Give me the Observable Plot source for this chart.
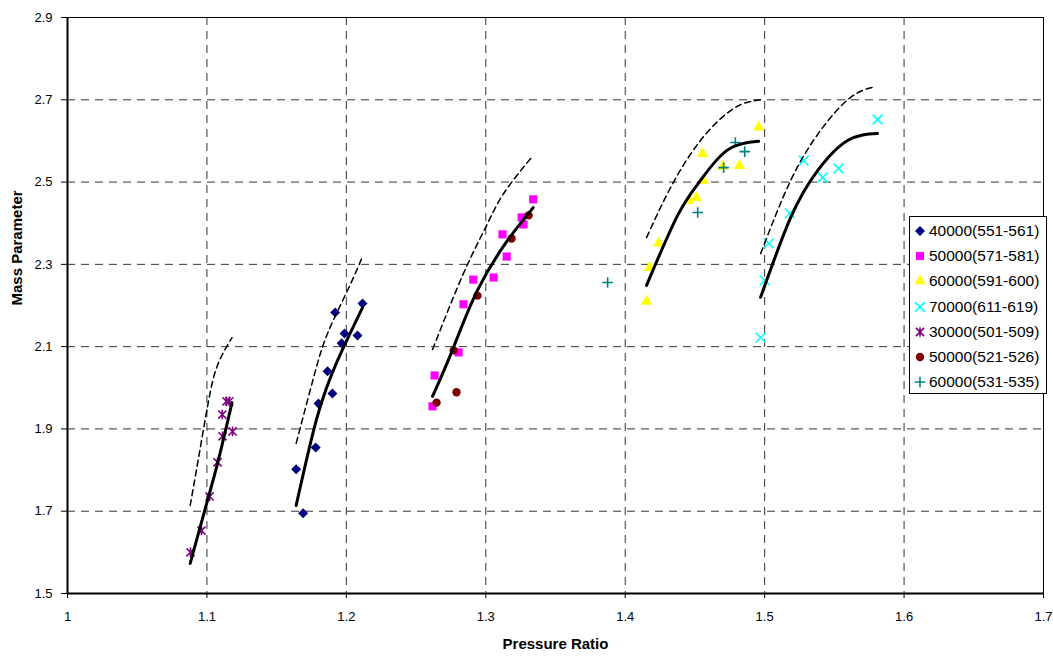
<!DOCTYPE html>
<html>
<head>
<meta charset="utf-8">
<script src="https://cdn.jsdelivr.net/npm/d3@7"></script>
<script src="https://cdn.jsdelivr.net/npm/@observablehq/plot@0.6"></script>
<style>
  html, body { margin: 0; padding: 0; background: #fff; }
  body { font-family: "Liberation Sans", Arial, sans-serif; }
  #wrap { position: relative; width: 1053px; height: 659px; overflow: hidden; }
  #legend {
    position: absolute; left: 909px; top: 216px; width: 138px; height: 178px;
    box-sizing: border-box; border: 1px solid #000; background: #fff;
    padding-top: 1px;
  }
  .row { height: 25.3px; display: flex; align-items: center; font-size: 15.5px; color: #000; white-space: nowrap; }
  .row svg { width: 18px; height: 18px; margin-left: 1px; margin-right: 0px; flex: none; }
</style>
</head>
<body>
<div id="wrap"></div>
<script>
// ---- Axis ticks ----
const xTicks = [1, 1.1, 1.2, 1.3, 1.4, 1.5, 1.6, 1.7];
const yTicks = [1.5, 1.7, 1.9, 2.1, 2.3, 2.5, 2.7, 2.9];

// ---- Series names (legend order) ----
const seriesNames = [
  "40000(551-561)", "50000(571-581)", "60000(591-600)", "70000(611-619)",
  "30000(501-509)", "50000(521-526)", "60000(531-535)"
];

// ---- Measured points [Pressure Ratio, Mass Parameter] ----
const s40000_551_561 = [[1.164,1.802],[1.169,1.695],[1.178,1.855],[1.180,1.962],[1.1865,2.040],[1.190,1.986],[1.192,2.183],[1.1966,2.108],[1.1987,2.132],[1.208,2.127],[1.2116,2.205]];
const s50000_571_581 = [[1.2618,1.955],[1.2633,2.030],[1.2805,2.086],[1.284,2.203],[1.291,2.263],[1.3056,2.268],[1.315,2.319],[1.312,2.373],[1.327,2.397],[1.3257,2.414],[1.334,2.458]];
const s60000_591_600 = [[1.4153,2.210],[1.4175,2.292],[1.424,2.351],[1.4455,2.455],[1.451,2.462],[1.456,2.504],[1.4555,2.569],[1.470,2.538],[1.482,2.540],[1.4957,2.633]];
const s70000_611_619 = [[1.4971,2.122],[1.500,2.261],[1.503,2.351],[1.518,2.424],[1.528,2.552],[1.5416,2.511],[1.553,2.533],[1.581,2.652]];
const s30000_501_509 = [[1.0882,1.600],[1.0961,1.653],[1.1019,1.736],[1.1076,1.819],[1.1112,1.882],[1.1184,1.894],[1.111,1.935],[1.114,1.967],[1.116,1.967]];
const s50000_521_526 = [[1.2647,1.964],[1.279,1.989],[1.277,2.091],[1.294,2.224],[1.3185,2.363],[1.3307,2.419]];
const s60000_531_535 = [[1.3874,2.256],[1.452,2.426],[1.4706,2.535],[1.479,2.596],[1.4857,2.574]];

// ---- Fitted curves (solid) ----
const fitSolid30000 = [[1.088,1.573],[1.0990,1.709],[1.1076,1.816],[1.118,1.964]];
const fitSolid40000 = [[1.164,1.714],[1.179,1.928],[1.1937,2.0665],[1.2116,2.195]];
const fitSolid50000 = [[1.2618,1.979],[1.276,2.091],[1.294,2.2366],[1.3156,2.358],[1.334,2.438]];
const fitSolid60000 = [[1.4153,2.249],[1.4376,2.419],[1.454,2.504],[1.473,2.577],[1.4957,2.599]];
const fitSolid70000 = [[1.4971,2.220],[1.5187,2.414],[1.538,2.528],[1.5595,2.601],[1.581,2.618]];

// ---- Fitted curves (dashed) ----
const fitDash30000 = [[1.088,1.714],[1.094,1.830],[1.101,1.965],[1.1076,2.055],[1.118,2.122]];
const fitDash40000 = [[1.164,1.865],[1.1765,2.025],[1.1865,2.132],[1.2009,2.237],[1.2116,2.319]];
const fitDash50000 = [[1.2618,2.093],[1.284,2.278],[1.2999,2.390],[1.3128,2.472],[1.334,2.565]];
const fitDash60000 = [[1.4153,2.365],[1.4326,2.487],[1.454,2.601],[1.4778,2.679],[1.4971,2.700]];
const fitDash70000 = [[1.4971,2.326],[1.5187,2.504],[1.540,2.625],[1.5617,2.706],[1.5796,2.732]];

// ---- Custom asterisk (x with a vertical bar) ----
const starSymbol = {
  draw(context, size) {
    const r = Math.sqrt(size / Math.PI);
    const a = r * 0.85;
    context.moveTo(-a, -a); context.lineTo(a, a);
    context.moveTo(a, -a); context.lineTo(-a, a);
    context.moveTo(0, -r); context.lineTo(0, r);
  }
};

// ---- Styles (separate from data) ----
const seriesData = [s40000_551_561, s50000_571_581, s60000_591_600, s70000_611_619, s30000_501_509, s50000_521_526, s60000_531_535];
const styles = [
  {symbol: "diamond2", color: "#000080", filled: true,  r: 4.5},
  {symbol: "square",   color: "#FF00FF", filled: true,  r: 4.6},
  {symbol: "triangle", color: "#FFFF00", filled: true,  r: 4.2},
  {symbol: "times",    color: "#00FFFF", filled: false, r: 4.5},
  {symbol: starSymbol, color: "#800080", filled: false, r: 4.8},
  {symbol: "circle",   color: "#800000", filled: true,  r: 4.2},
  {symbol: "plus",     color: "#008080", filled: false, r: 3.5}
];
const solids = [fitSolid30000, fitSolid40000, fitSolid50000, fitSolid60000, fitSolid70000];
const dashes = [fitDash30000, fitDash40000, fitDash50000, fitDash60000, fitDash70000];

const gridX = xTicks.slice(1, -1);
const gridY = yTicks.slice(1, -1);

const marks = [
  Plot.ruleX(gridX, {stroke: "#333", strokeWidth: 1, strokeDasharray: "8,6"}),
  Plot.ruleY(gridY, {stroke: "#333", strokeWidth: 1, strokeDasharray: "8,6"}),
  Plot.frame({stroke: "#000", strokeWidth: 1}),
  Plot.ruleX([xTicks[0]], {stroke: "#000", strokeWidth: 2}),
  Plot.ruleY([yTicks[0]], {stroke: "#000", strokeWidth: 2})
];

seriesData.forEach((d, i) => {
  const s = styles[i];
  marks.push(Plot.dot(d, s.filled
    ? {symbol: s.symbol, r: s.r, fill: s.color, stroke: "none"}
    : {symbol: s.symbol, r: s.r, stroke: s.color, strokeWidth: 1.6, fill: "none"}));
});

dashes.forEach(d => marks.push(Plot.line(d, {curve: "natural", stroke: "#000", strokeWidth: 1.5, strokeDasharray: "6,4"})));
solids.forEach(d => marks.push(Plot.line(d, {curve: "natural", stroke: "#000", strokeWidth: 3})));

marks.push(Plot.text(["Pressure Ratio"], {frameAnchor: "bottom", dy: 55, fontWeight: "bold", fontSize: 15, fill: "#000"}));
marks.push(Plot.text(["Mass Parameter"], {frameAnchor: "left", dx: -50, rotate: -90, fontWeight: "bold", fontSize: 15, fill: "#000"}));

const chart = Plot.plot({
  width: 1053,
  height: 659,
  marginLeft: 67,
  marginRight: 10,
  marginTop: 17,
  marginBottom: 66,
  style: {fontFamily: "'Liberation Sans', Arial, sans-serif", fontSize: "13px", color: "#000", background: "#fff"},
  x: {domain: [xTicks[0], xTicks[xTicks.length - 1]], ticks: xTicks, tickFormat: d => String(+d.toFixed(1)), tickSize: 5, tickPadding: 13, label: null},
  y: {domain: [yTicks[0], yTicks[yTicks.length - 1]], ticks: yTicks, tickFormat: d => d.toFixed(1), tickSize: 6, tickPadding: 9, label: null},
  marks
});

const wrap = document.getElementById("wrap");
wrap.appendChild(chart);

// ---- Legend (HTML overlay) ----
const legend = document.createElement("div");
legend.id = "legend";
const symMap = {diamond2: d3.symbolDiamond2, square: d3.symbolSquare, triangle: d3.symbolTriangle,
  times: d3.symbolTimes, circle: d3.symbolCircle, plus: d3.symbolPlus};
seriesNames.forEach((name, i) => {
  const s = styles[i];
  const row = document.createElement("div");
  row.className = "row";
  const svg = d3.create("svg").attr("viewBox", "-9 -9 18 18");
  const type = typeof s.symbol === "string" ? symMap[s.symbol] : s.symbol;
  const path = d3.symbol(type, s.r * s.r * Math.PI)();
  const p = svg.append("path").attr("d", path);
  if (s.filled) p.attr("fill", s.color);
  else p.attr("fill", "none").attr("stroke", s.color).attr("stroke-width", 1.6);
  row.appendChild(svg.node());
  const span = document.createElement("span");
  span.textContent = name;
  row.appendChild(span);
  legend.appendChild(row);
});
wrap.appendChild(legend);
</script>
</body>
</html>
